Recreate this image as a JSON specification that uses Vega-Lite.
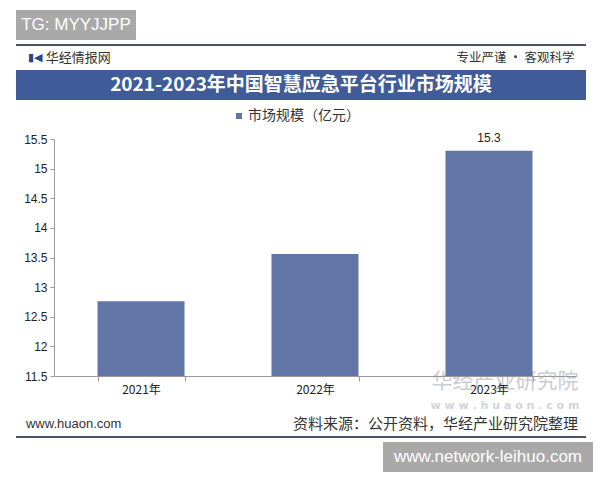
{
  "$schema": "https://vega.github.io/schema/vega-lite/v6.json",
  "padding": {"left": 15, "top": 10, "right": 0, "bottom": 0},
  "background": "white",
  "config": {
    "view": {"stroke": null},
    "font": "Noto Sans CJK SC",
    "axis": {"labelOverlap": false},
    "axisY": {"labelOverlap": false}
  },
  "spacing": 4,
  "resolve": {"scale": {"color": "independent"}, "legend": {"color": "independent"}},
  "vconcat": [
    {
      "width": 120,
      "height": 30,
      "view": {"fill": "#a9a9a9"},
      "data": {"values": [{"t": "TG: MYYJJPP"}]},
      "mark": {"type": "text", "color": "white", "fontSize": 17, "font": "Liberation Sans"},
      "encoding": {"text": {"field": "t"}}
    },
    {
      "spacing": 0,
      "bounds": "flush",
      "resolve": {"scale": {"color": "independent"}, "legend": {"color": "independent"}},
      "vconcat": [
        {
          "width": 570,
          "height": 25,
          "data": {"values": [{"logo": "▮◀", "left": "华经情报网", "right": "专业严谨 • 客观科学"}]},
          "layer": [
            {
              "mark": {"type": "rule", "color": "#4b5263", "strokeWidth": 2},
              "encoding": {
                "x": {"datum": 0, "scale": {"domain": [0, 1], "nice": false, "zero": false}, "axis": null},
                "x2": {"datum": 1},
                "y": {"datum": 1, "scale": {"domain": [0, 1]}, "axis": null}
              }
            },
            {
              "mark": {"type": "text", "align": "left", "fontSize": 11, "color": "#2c4582", "font": "DejaVu Sans"},
              "encoding": {
                "x": {"datum": 0.021},
                "text": {"field": "logo"}
              }
            },
            {
              "mark": {"type": "text", "align": "left", "fontSize": 13, "color": "#333333"},
              "encoding": {
                "x": {"datum": 0.052},
                "text": {"field": "left"}
              }
            },
            {
              "mark": {"type": "text", "align": "right", "fontSize": 12.5, "color": "#333333"},
              "encoding": {
                "x": {"datum": 0.98},
                "text": {"field": "right"}
              }
            }
          ]
        },
        {
          "width": 570,
          "height": 30,
          "view": {"fill": "#3f5b98"},
          "data": {"values": [{"t": "2021-2023年中国智慧应急平台行业市场规模"}]},
          "mark": {"type": "text", "color": "white", "fontSize": 19, "fontWeight": "bold"},
          "encoding": {"text": {"field": "t"}}
        },
        {
          "width": 570,
          "height": 276,
          "data": {"values": [
            {"year": "2021年", "value": 12.76, "series": "市场规模（亿元）"},
            {"year": "2022年", "value": 13.56, "series": "市场规模（亿元）"},
            {"year": "2023年", "value": 15.3, "series": "市场规模（亿元）"}
          ]},
          "encoding": {
            "x": {
              "field": "year",
              "type": "nominal",
              "sort": null,
              "scale": {"domain": ["2021年", "2022年", "2023年"], "range": [38, 560], "paddingInner": 0.5, "paddingOuter": 0.25},
              "axis": {
                "title": null,
                "tickBand": "extent",
                "labelAngle": 0,
                "zindex": 2,
                "domainColor": "#9a9a9a",
                "tickColor": "#9a9a9a",
                "tickSize": 5,
                "labelPadding": 3,
                "labelFontSize": 12,
                "labelColor": "#222222"
              }
            },
            "y": {
              "field": "value",
              "type": "quantitative",
              "scale": {"domain": [11.5, 15.5], "range": [276, 39], "nice": false, "zero": false},
              "axis": {
                "title": null,
                "offset": -38,
                "values": [11.5, 12, 12.5, 13, 13.5, 14, 14.5, 15, 15.5],
                "format": ".1~f",
                "labelOverlap": false,
                "grid": false,
                "domainColor": "#9a9a9a",
                "tickColor": "#9a9a9a",
                "tickSize": 4,
                "labelPadding": 3,
                "labelFontSize": 12,
                "labelFont": "Liberation Sans",
                "labelColor": "#222222"
              }
            }
          },
          "layer": [
            {
              "transform": [{"filter": "datum.year == '2023年'"}],
              "mark": {"type": "text", "text": "华经产业研究院", "fontSize": 21, "color": "#c9cdd5", "dx": 16},
              "encoding": {
                "y": {"datum": 11.4, "type": "quantitative"}
              }
            },
            {
              "transform": [{"filter": "datum.year == '2023年'"}],
              "mark": {"type": "text", "text": "w w w . h u a o n . c o m", "fontSize": 11, "fontWeight": "bold", "color": "#d0d4db", "dx": 16, "font": "DejaVu Sans"},
              "encoding": {
                "y": {"datum": 11.0, "type": "quantitative"}
              }
            },
            {
              "mark": {"type": "bar", "color": "#6176a6"},
              "encoding": {
                "y2": {"datum": 11.5},
                "color": {
                  "field": "series",
                  "type": "nominal",
                  "scale": {"range": ["#6176a6"]},
                  "legend": {
                    "orient": "none",
                    "legendX": 216,
                    "legendY": 9,
                    "direction": "horizontal",
                    "title": null,
                    "symbolType": "square",
                    "symbolSize": 36,
                    "symbolStrokeWidth": 0,
                    "labelOffset": 2,
                    "labelFontSize": 14,
                    "labelColor": "#333333"
                  }
                }
              }
            },
            {
              "transform": [{"filter": "datum.year == '2023年'"}],
              "mark": {"type": "text", "baseline": "bottom", "dy": -6, "fontSize": 12, "font": "Liberation Sans", "color": "#222222"},
              "encoding": {
                "text": {"field": "value", "type": "quantitative", "format": ".1f"}
              }
            }
          ]
        },
        {
          "width": 570,
          "height": 61,
          "data": {"values": [{"left": "www.huaon.com", "right": "资料来源：公开资料，华经产业研究院整理"}]},
          "layer": [
            {
              "mark": {"type": "rule", "color": "#4b5263", "strokeWidth": 2},
              "encoding": {
                "x": {"datum": 0, "scale": {"domain": [0, 1], "nice": false, "zero": false}, "axis": null},
                "x2": {"datum": 1},
                "y": {"datum": 0, "scale": {"domain": [0, 1]}, "axis": null}
              }
            },
            {
              "mark": {"type": "text", "align": "left", "fontSize": 13, "color": "#333333", "font": "Liberation Sans"},
              "encoding": {
                "x": {"datum": 0.0175},
                "y": {"datum": 0.215},
                "text": {"field": "left"}
              }
            },
            {
              "mark": {"type": "text", "align": "right", "fontSize": 15, "color": "#333333"},
              "encoding": {
                "x": {"datum": 0.986},
                "y": {"datum": 0.215},
                "text": {"field": "right"}
              }
            }
          ]
        }
      ]
    },
    {
      "spacing": 10,
      "hconcat": [
        {
          "width": 357,
          "height": 30,
          "data": {"values": []},
          "mark": "text",
          "encoding": {}
        },
        {
          "width": 210,
          "height": 30,
          "view": {"fill": "#a9a9a9"},
          "data": {"values": [{"t": "www.network-leihuo.com"}]},
          "mark": {"type": "text", "color": "white", "fontSize": 17, "font": "Liberation Sans"},
          "encoding": {"text": {"field": "t"}}
        }
      ]
    }
  ]
}
